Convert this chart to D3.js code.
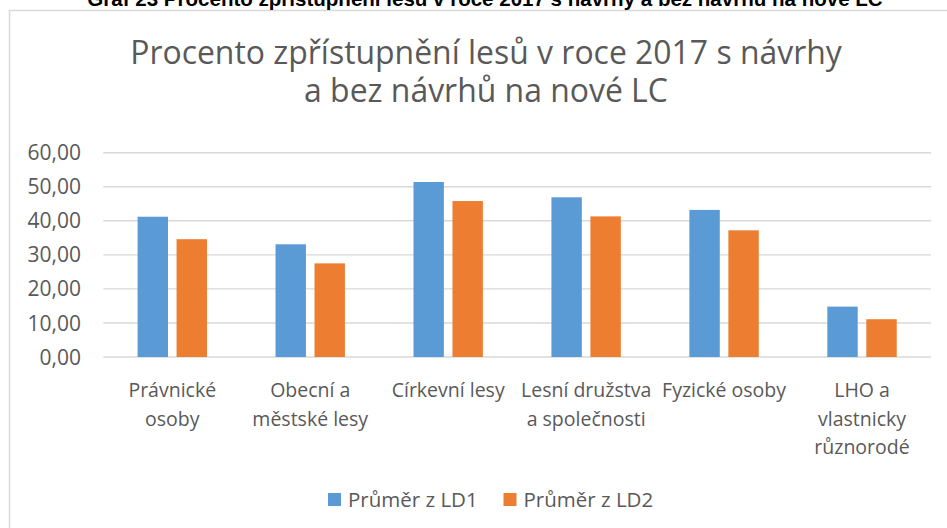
<!DOCTYPE html>
<html>
<head>
<meta charset="utf-8">
<script src="https://cdn.jsdelivr.net/npm/d3@7"></script>
<style>
  body { margin: 0; background: #fff; }
  svg { display: block; }
</style>
</head>
<body>
<script>
// data
var categories = ["Právnické\nosoby", "Obecní a\nměstské lesy", "Církevní lesy",
                  "Lesní družstva\na společnosti", "Fyzické osoby", "LHO a\nvlastnicky\nrůznorodé"];
var series = ["Průměr z LD1", "Průměr z LD2"];
var ld1 = [41.2, 33.1, 51.4, 46.9, 43.2, 14.8];
var ld2 = [34.6, 27.5, 45.8, 41.3, 37.2, 11.1];
var yTicks = [0, 10, 20, 30, 40, 50, 60];
var caption = "Graf 23 Procento zpřístupnění lesů v roce 2017 s návrhy a bez návrhů na nové LC";
var titleLines = ["Procento zpřístupnění lesů v roce 2017 s návrhy", "a bez návrhů na nové LC"];

var colors = ["#5b9bd5", "#ed7d31"];
var textCol = "#595959";
var font = "'Open Sans', sans-serif";

var w = 947, h = 528;
var svg = d3.select("body").append("svg").attr("width", w).attr("height", h);

svg.append("rect").attr("width", w).attr("height", h).attr("fill", "#fff");

// chart frame, runs off the right and bottom of the picture
svg.append("rect")
   .attr("x", 9.5).attr("y", 10.5).attr("width", 1000).attr("height", 1000)
   .attr("fill", "none").attr("stroke", "#d9d9d9").attr("stroke-width", 1.5);

// shrink / grow font so text spans a given width
var fit = function(sel, target) {
  var len = sel.node().getComputedTextLength();
  var fs = parseFloat(sel.attr("font-size"));
  sel.attr("font-size", fs * target / len);
  return fs * target / len;
};

// caption above the chart (cut off at top, as in the page it was taken from)
var cap = svg.append("text").text(caption)
   .attr("x", 485).attr("y", 6).attr("text-anchor", "middle")
   .attr("font-family", "'Liberation Sans', Arial, sans-serif").attr("font-weight", "bold")
   .attr("font-size", 16).attr("fill", "#000");
fit(cap, 796);

// title
var t1 = svg.append("text").text(titleLines[0])
   .attr("x", 486).attr("y", 64).attr("text-anchor", "middle")
   .attr("font-family", font).attr("font-size", 28).attr("fill", textCol);
var tfs = fit(t1, 712);
svg.append("text").text(titleLines[1])
   .attr("x", 486).attr("y", 102).attr("text-anchor", "middle")
   .attr("font-family", font).attr("font-size", tfs).attr("fill", textCol);

// scales
var y = d3.scaleLinear().domain([0, 60]).range([357, 152.7]);
var x0 = d3.scaleBand().domain(categories).range([103.3, 931]).paddingInner(0).paddingOuter(0);
var bw = x0.bandwidth();
var x1 = d3.scaleBand().domain(series).range([bw / 2 - 34.7, bw / 2 + 34.7]).paddingInner(0.22);

var loc = d3.formatLocale({decimal: ",", thousands: " ", grouping: [3], currency: ["", ""]});
var fmt = loc.format(".2f");

// gridlines
svg.append("g").selectAll("line").data(yTicks).enter().append("line")
   .attr("x1", 103.3).attr("x2", 931)
   .attr("y1", function(d) { return y(d); }).attr("y2", function(d) { return y(d); })
   .attr("stroke", "#d9d9d9").attr("stroke-width", 1.4);

// y tick labels
svg.append("g").selectAll("text").data(yTicks).enter().append("text")
   .attr("x", 81).attr("y", function(d) { return y(d); }).attr("dy", "0.36em")
   .attr("text-anchor", "end").attr("font-family", font).attr("font-size", 21)
   .attr("fill", textCol).text(function(d) { return fmt(d); });

// bars
var rows = categories.map(function(c, i) { return {cat: c, vals: [ld1[i], ld2[i]]}; });
var grp = svg.append("g").selectAll("g").data(rows).enter().append("g")
   .attr("transform", function(d) { return "translate(" + x0(d.cat) + ",0)"; });
grp.selectAll("rect").data(function(d) { return d.vals.map(function(v, k) { return {s: series[k], v: v, k: k}; }); })
   .enter().append("rect")
   .attr("x", function(d) { return x1(d.s); })
   .attr("width", x1.bandwidth())
   .attr("y", function(d) { return y(d.v); })
   .attr("height", function(d) { return y(0) - y(d.v); })
   .attr("fill", function(d) { return colors[d.k]; });

// category labels
var lab = svg.append("g").selectAll("text").data(categories).enter().append("text")
   .attr("x", function(d) { return x0(d) + bw / 2; })
   .attr("text-anchor", "middle").attr("font-family", font).attr("font-size", 19.5)
   .attr("fill", textCol);
lab.each(function(d) {
  var el = d3.select(this);
  d.split("\n").forEach(function(line, i) {
    el.append("tspan").attr("x", x0(d) + bw / 2).attr("y", 397 + i * 28.5).text(line);
  });
});

// legend
var legX = [328, 503.5];
var leg = svg.append("g").selectAll("g").data(series).enter().append("g")
   .attr("transform", function(d, i) { return "translate(" + legX[i] + ",493)"; });
leg.append("rect").attr("width", 13).attr("height", 13)
   .attr("fill", function(d, i) { return colors[i]; });
leg.append("text").attr("x", 20).attr("y", 13.5)
   .attr("font-family", font).attr("font-size", 20.5).attr("fill", textCol)
   .text(function(d) { return d; });
</script>
</body>
</html>
